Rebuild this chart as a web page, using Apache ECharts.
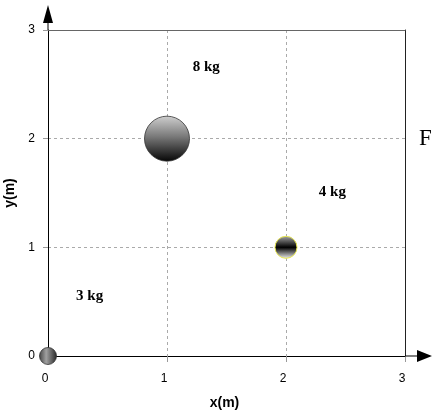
<!DOCTYPE html>
<html>
<head>
<meta charset="utf-8">
<script src="https://cdn.jsdelivr.net/npm/echarts@6/dist/echarts.min.js"></script>
<style>html,body{margin:0;padding:0;background:#fff;}#c{width:432px;height:417px;}</style>
</head>
<body>
<div id="c"></div>
<script>
// ---- data ----
var massLabels = ['3 kg', '8 kg', '4 kg'];
var massX = [0, 1, 2];
var massY = [0, 2, 1];
// annotation anchors (data coordinates) for the mass labels
var labelX = [0.35, 1.33, 2.39];
var labelY = [0.55, 2.66, 1.51];
var xTicks = [0, 1, 2, 3];
var yTicks = [0, 1, 2, 3];

// ---- styles ----
var ballSizes = [17, 45, 22];
var ballStyles = [
  { opacity: 1, color: new echarts.graphic.LinearGradient(0, 0, 1, 0, [
      { offset: 0, color: '#444' }, { offset: 0.4, color: '#a0a0a0' }, { offset: 1, color: '#252525' }]),
    borderColor: '#333', borderWidth: 0.8 },
  { opacity: 1, color: new echarts.graphic.LinearGradient(0, 0, 0, 1, [
      { offset: 0, color: '#cfcfcf' }, { offset: 0.45, color: '#7a7a7a' }, { offset: 1, color: '#050505' }]),
    borderColor: '#333', borderWidth: 0.8 },
  { opacity: 1, color: new echarts.graphic.LinearGradient(0, 0, 0, 1, [
      { offset: 0, color: '#a8a8a8' }, { offset: 0.5, color: '#000' }, { offset: 1, color: '#f4f4f4' }]),
    borderColor: '#e8e850', borderWidth: 1 }
];

var ballData = massX.map(function (x, i) {
  return { value: [x, massY[i]], symbolSize: ballSizes[i], itemStyle: ballStyles[i] };
});
var labelData = labelX.map(function (x, i) {
  return { value: [x, labelY[i]], name: massLabels[i] };
});

var tickFont = { color: '#000', fontSize: 12, fontFamily: 'Liberation Sans, Arial, sans-serif' };
var dashed = { show: true, lineStyle: { color: '#aaa', width: 1, type: [3, 3] } };

var chart = echarts.init(document.getElementById('c'), null, { renderer: 'canvas' });
chart.setOption({
  animation: false,
  backgroundColor: '#fff',
  grid: { left: 48, right: 27, top: 30, bottom: 61, containLabel: false, outerBoundsMode: 'none' },
  xAxis: [{
    type: 'value', min: 0, max: 3, interval: 1,
    name: 'x(m)', nameLocation: 'middle', nameGap: 40,
    nameTextStyle: { color: '#000', fontSize: 14, fontWeight: 'bold', fontFamily: 'Liberation Sans, Arial, sans-serif', padding: [0, 4, 0, 0] },
    axisLine: { show: true, onZero: false, lineStyle: { color: '#000', width: 1 },
      symbol: ['none', 'path://M6,0 L12,15 L6.5,15 L6.5,27 L5.5,27 L5.5,15 L0,15 Z'],
      symbolSize: [12, 27], symbolOffset: [0, 13.5] },
    axisTick: { show: true, length: 6, lineStyle: { color: '#999' } },
    axisLabel: Object.assign({ margin: 17, padding: [0, 6, 0, 0], formatter: function (v) { return xTicks.indexOf(v) >= 0 ? String(v) : ''; } }, tickFont),
    splitLine: dashed
  }, {
    type: 'value', min: 0, max: 3, interval: 1, position: 'top',
    axisLine: { show: true, onZero: false, lineStyle: { color: '#666', width: 1 } },
    axisTick: { show: false }, axisLabel: { show: false }, splitLine: { show: false }
  }],
  yAxis: [{
    type: 'value', min: 0, max: 3, interval: 1,
    name: 'y(m)', nameLocation: 'middle', nameGap: 23, nameRotate: 90,
    nameTextStyle: { color: '#000', fontSize: 14, fontWeight: 'bold', fontFamily: 'Liberation Sans, Arial, sans-serif' },
    axisLine: { show: true, onZero: false, lineStyle: { color: '#000', width: 1 },
      symbol: ['none', 'path://M5,0 L10,18 L5.5,18 L5.5,25 L4.5,25 L4.5,18 L0,18 Z'],
      symbolSize: [10, 25], symbolOffset: [0, 12.5] },
    axisTick: { show: true, length: 5, lineStyle: { color: '#999' } },
    axisLabel: Object.assign({ margin: 13, formatter: function (v) { return yTicks.indexOf(v) >= 0 ? String(v) : ''; } }, tickFont),
    splitLine: dashed
  }, {
    type: 'value', min: 0, max: 3, interval: 1, position: 'right',
    axisLine: { show: true, onZero: false, lineStyle: { color: '#222', width: 1 } },
    axisTick: { show: false }, axisLabel: { show: false }, splitLine: { show: false }
  }],
  series: [{
    type: 'scatter', xAxisIndex: 0, yAxisIndex: 0, z: 5,
    itemStyle: { opacity: 1 },
    data: ballData
  }, {
    type: 'scatter', xAxisIndex: 0, yAxisIndex: 0, z: 6,
    symbolSize: 0, silent: true,
    itemStyle: { opacity: 1, color: 'transparent' },
    label: { show: true, position: 'inside', formatter: '{b}', color: '#000', opacity: 1,
      fontSize: 15, fontWeight: 'bold', fontFamily: 'Liberation Serif, Times New Roman, serif' },
    data: labelData
  }],
  graphic: [{
    type: 'text', left: 419, top: 127,
    style: { text: 'F', fill: '#000', fontSize: 23, fontFamily: 'Liberation Serif, Times New Roman, serif' }
  }]
});
</script>
</body>
</html>
